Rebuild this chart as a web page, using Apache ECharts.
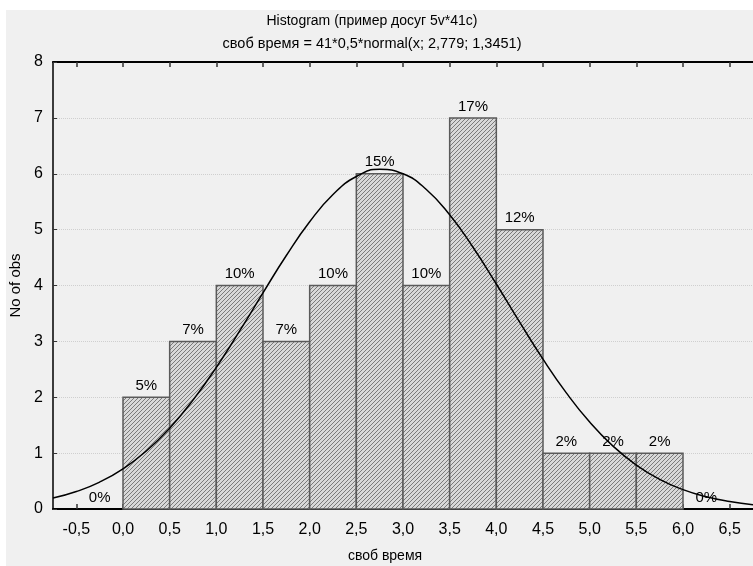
<!DOCTYPE html>
<html><head><meta charset="utf-8">
<script src="https://cdn.jsdelivr.net/npm/echarts@6/dist/echarts.min.js"></script>
<style>
html,body{margin:0;padding:0;background:#fff;}
#wrap{position:relative;width:753px;height:566px;overflow:hidden;}
#bg{position:absolute;left:6px;top:10px;width:747px;height:556px;background:#f0f0f0;}
#chart{position:absolute;left:0;top:0;width:753px;height:566px;}
</style></head><body>
<div id="wrap"><div id="bg"></div><div id="chart"></div></div>
<script>
const titleText = 'Histogram (пример досуг 5v*41c)';
const subText = 'своб время = 41*0,5*normal(x; 2,779; 1,3451)';
const xName = 'своб время';
const yName = 'No of obs';
const binStarts = [-0.5, 0, 0.5, 1, 1.5, 2, 2.5, 3, 3.5, 4, 4.5, 5, 5.5, 6];
const binWidth = 0.5;
const counts = [0, 2, 3, 4, 3, 4, 6, 4, 7, 5, 1, 1, 1, 0];
const pctLabels = ['0%', '5%', '7%', '10%', '7%', '10%', '15%', '10%', '17%', '12%', '2%', '2%', '2%', '0%'];
const xTicks = [-0.5, 0, 0.5, 1, 1.5, 2, 2.5, 3, 3.5, 4, 4.5, 5, 5.5, 6, 6.5];
const curveX = [-0.75, -0.5, -0.25, 0, 0.25, 0.5, 0.75, 1, 1.25, 1.5, 1.75, 2, 2.25, 2.5, 2.75, 3, 3.25, 3.5, 3.75, 4, 4.25, 4.5, 4.75, 5, 5.25, 5.5, 5.75, 6, 6.25, 6.5, 6.75];
const curveY = [0.195, 0.312, 0.482, 0.720, 1.038, 1.447, 1.949, 2.536, 3.187, 3.869, 4.537, 5.141, 5.628, 5.951, 6.079, 5.999, 5.719, 5.266, 4.685, 4.027, 3.344, 2.682, 2.078, 1.555, 1.125, 0.786, 0.530, 0.346, 0.218, 0.133, 0.078];

const FONT = '"Liberation Sans", Arial, sans-serif';

function hatch() {
  const c = document.createElement('canvas');
  c.width = 4; c.height = 4;
  const g = c.getContext('2d');
  g.fillStyle = '#d8d8d8'; g.fillRect(0, 0, 4, 4);
  g.fillStyle = '#7a7a7a';
  g.fillRect(0, 3, 1, 1); g.fillRect(1, 2, 1, 1); g.fillRect(2, 1, 1, 1); g.fillRect(3, 0, 1, 1);
  return c;
}
const pat = hatch();

const barData = binStarts.map((s, i) => [s, s + binWidth, counts[i]]);
const curveData = curveX.map((x, i) => [x, curveY[i]]);
const fmt = v => v.toFixed(1).replace('.', ',');

const chart = echarts.init(document.getElementById('chart'), null, {renderer: 'canvas'});
chart.setOption({
  backgroundColor: 'transparent',
  animation: false,
  title: {
    text: titleText, subtext: subText,
    left: 367, top: 8, textAlign: 'center', itemGap: 5,
    textStyle: {fontFamily: FONT, fontSize: 14, fontWeight: 'normal', color: '#000', lineHeight: 17},
    subtextStyle: {fontFamily: FONT, fontSize: 14.5, color: '#000', lineHeight: 17}
  },
  grid: {left: 51, top: 62, width: 708, height: 447, containLabel: false},
  xAxis: [{
    type: 'value', min: -0.75, max: 6.75, position: 'bottom',
    axisLine: {show: true, onZero: false, lineStyle: {color: '#000', width: 2}},
    axisTick: {show: true, inside: true, length: 5, customValues: xTicks, lineStyle: {color: '#333', width: 1.5}},
    axisLabel: {show: true, customValues: xTicks, formatter: fmt, margin: 13, fontFamily: FONT, fontSize: 16, color: '#000'},
    splitLine: {show: false}
  }, {
    type: 'value', min: -0.75, max: 6.75, position: 'top',
    axisLine: {show: true, onZero: false, lineStyle: {color: '#000', width: 2}},
    axisTick: {show: true, inside: true, length: 5, customValues: xTicks, lineStyle: {color: '#333', width: 1.5}},
    axisLabel: {show: false},
    splitLine: {show: false}
  }],
  yAxis: {
    type: 'value', min: 0, max: 8, interval: 1,
    name: yName, nameLocation: 'middle', nameGap: 30, nameRotate: 90,
    nameTextStyle: {fontFamily: FONT, fontSize: 15, color: '#000'},
    axisLine: {show: true, onZero: false, lineStyle: {color: '#000', width: 1.5}},
    axisTick: {show: true, inside: true, length: 4, lineStyle: {color: '#333'}},
    axisLabel: {margin: 10, fontFamily: FONT, fontSize: 16, color: '#000'},
    splitLine: {show: true, lineStyle: {color: '#cfcfcf', type: 'dotted', width: 1}}
  },
  graphic: [{
    type: 'text', x: 385, y: 556,
    style: {text: xName, font: '14px ' + FONT, fill: '#000', textAlign: 'center', textVerticalAlign: 'middle', align: 'center', verticalAlign: 'middle'}
  }],
  series: [{
    type: 'custom', xAxisIndex: 0, z: 2,
    data: barData,
    renderItem: function (params, api) {
      const v = api.value(2);
      const p0 = api.coord([api.value(0), v]);
      const p1 = api.coord([api.value(1), 0]);
      const children = [];
      if (v > 0) {
        children.push({type: 'rect',
          shape: {x: p0[0], y: p0[1], width: p1[0] - p0[0], height: p1[1] - p0[1]},
          style: {fill: {image: pat, repeat: 'repeat'}, stroke: '#5a5a5a', lineWidth: 1.5}});
      }
      children.push({type: 'text', x: (p0[0] + p1[0]) / 2, y: p0[1] - 4,
        style: {text: pctLabels[params.dataIndex], font: '15px ' + FONT, fill: '#000',
          textAlign: 'center', textVerticalAlign: 'bottom', align: 'center', verticalAlign: 'bottom'}});
      return {type: 'group', children: children};
    }
  }, {
    type: 'line', xAxisIndex: 0, z: 5,
    data: curveData, smooth: true, showSymbol: false, symbol: 'none',
    lineStyle: {color: '#000', width: 1.5}
  }]
});
</script>
</body></html>
